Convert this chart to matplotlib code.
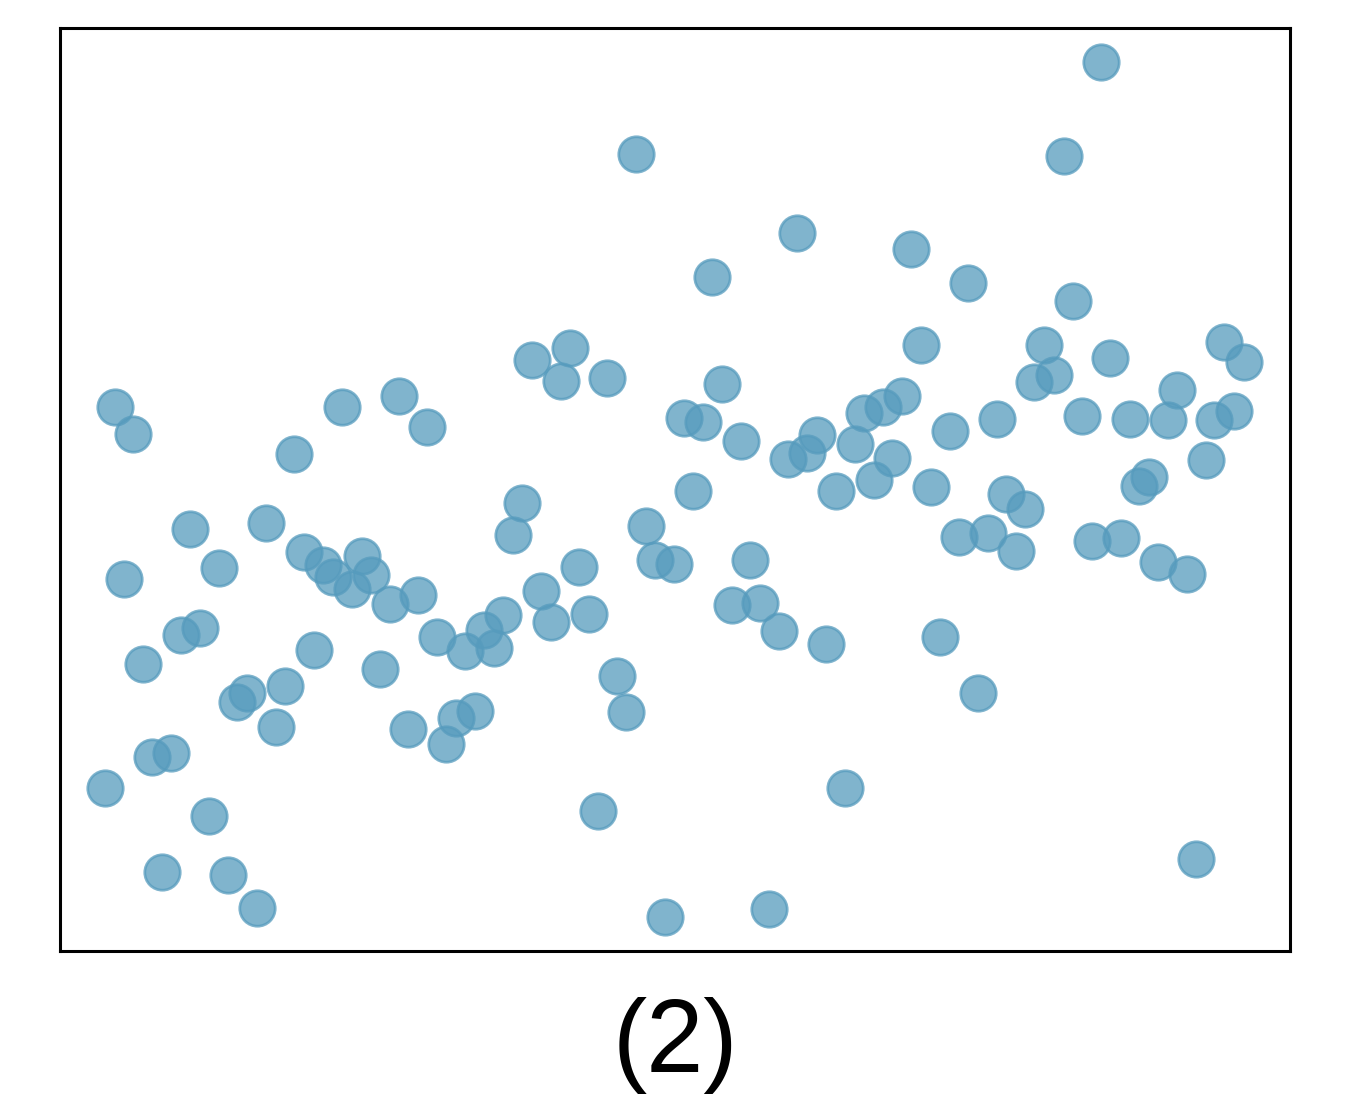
import matplotlib
matplotlib.use("Agg")
import matplotlib.pyplot as plt

# point positions (x to the right, y upward)
xs = [1101, 636, 1064, 797, 911, 712, 968, 1073, 921, 1044, 1224, 570, 532, 1110,
      1244, 1054, 1034, 561, 607, 722, 1177, 399, 902, 115, 342, 864, 883, 1234,
      1214, 1168, 1130, 1082, 997, 684, 703, 427, 133, 817, 950, 741, 855, 807,
      788, 294, 892, 1206, 874, 1149, 1139, 931, 836, 693, 1006, 1025, 522, 513,
      266, 190, 646, 959, 988, 1092, 1121, 1016, 304, 362, 323, 655, 674, 750,
      1158, 1187, 219, 579, 333, 371, 124, 352, 541, 418, 390, 732, 760, 589,
      503, 551, 200, 181, 484, 779, 437, 940, 826, 465, 494, 314, 143, 380, 617,
      285, 247, 237, 978, 475, 456, 626, 276, 408, 446, 171, 152, 105, 845, 209,
      598, 162, 228, 257, 1196, 665, 769]
ys_px = [62, 154, 156, 233, 249, 277, 283, 301, 345, 345, 342, 348, 360, 358,
         362, 375, 382, 381, 378, 384, 390, 396, 396, 407, 407, 413, 407, 411,
         420, 420, 419, 416, 419, 418, 422, 427, 434, 435, 431, 441, 444, 453,
         459, 454, 458, 460, 480, 477, 486, 487, 491, 491, 494, 509, 503, 535,
         523, 529, 526, 537, 533, 541, 538, 551, 552, 556, 565, 560, 564, 560,
         562, 574, 568, 567, 577, 575, 579, 589, 591, 595, 604, 605, 603, 614,
         615, 622, 628, 635, 630, 631, 637, 637, 644, 651, 648, 650, 664, 669,
         676, 686, 693, 702, 693, 711, 718, 712, 727, 729, 744, 753, 757, 788,
         788, 816, 811, 872, 875, 908, 859, 917, 909]
ys = [951 - v for v in ys_px]

fig = plt.figure(figsize=(13.5, 11.09), dpi=100)
ax = fig.add_axes([60 / 1350, 158 / 1109, 1230 / 1350, 923 / 1109])

ax.scatter(xs, ys, s=650, color="#569BBD", alpha=0.75, edgecolors="#569BBD",
           linewidths=2, zorder=3)

ax.set_xlim(60, 1290)
ax.set_ylim(0, 923)
ax.set_xticks([])
ax.set_yticks([])
for sp in ax.spines.values():
    sp.set_linewidth(2.2)

fig.text(675 / 1350, 1 - 1045 / 1109, "(2)", ha="center", va="center",
         fontsize=74, family=["Liberation Sans", "DejaVu Sans"])

fig.savefig("out.png", dpi=100)
